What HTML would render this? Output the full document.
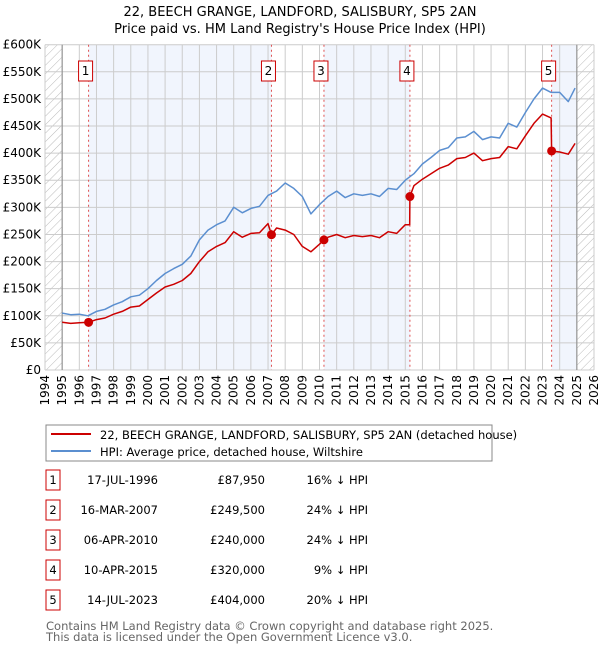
<!DOCTYPE html>
<html><head><meta charset="utf-8"><style>
body{margin:0;background:#fff;font-family:"Liberation Sans","DejaVu Sans",sans-serif;}
svg text{font-family:"DejaVu Sans","Liberation Sans",sans-serif;}
</style></head><body>
<svg id="c" width="600" height="650" xmlns="http://www.w3.org/2000/svg">
<defs><pattern id="h" width="6" height="6" patternUnits="userSpaceOnUse" patternTransform="rotate(45)"><line x1="0" y1="0" x2="0" y2="6" stroke="#bbb" stroke-width="1"/></pattern></defs>
<text x="300" y="16" text-anchor="middle" font-size="13">22, BEECH GRANGE, LANDFORD, SALISBURY, SP5 2AN</text>
<text x="300" y="33" text-anchor="middle" font-size="13">Price paid vs. HM Land Registry's House Price Index (HPI)</text>
<g id="plot"></g>
<g>
<rect x="46" y="425" width="446" height="36" fill="#fff" stroke="#888"/>
<line x1="51" y1="434" x2="91" y2="434" stroke="#cc0000" stroke-width="2"/>
<text x="100" y="439" font-size="11.5">22, BEECH GRANGE, LANDFORD, SALISBURY, SP5 2AN (detached house)</text>
<line x1="51" y1="451" x2="91" y2="451" stroke="#5b8fd0" stroke-width="2"/>
<text x="100" y="456" font-size="11.5">HPI: Average price, detached house, Wiltshire</text>
</g>
<g id="table" font-size="11.5"></g>
<text x="46" y="630" font-size="11.5" fill="#666">Contains HM Land Registry data © Crown copyright and database right 2025.</text>
<text x="46" y="641" font-size="11.5" fill="#666">This data is licensed under the Open Government Licence v3.0.</text>
</svg>
<script>
const hpiYears=[1995,1995.5,1996,1996.5,1997,1997.5,1998,1998.5,1999,1999.5,2000,2000.5,2001,2001.5,2002,2002.5,2003,2003.5,2004,2004.5,2005,2005.5,2006,2006.5,2007,2007.5,2008,2008.5,2009,2009.5,2010,2010.5,2011,2011.5,2012,2012.5,2013,2013.5,2014,2014.5,2015,2015.5,2016,2016.5,2017,2017.5,2018,2018.5,2019,2019.5,2020,2020.5,2021,2021.5,2022,2022.5,2023,2023.5,2024,2024.5,2024.9];
const hpiValues=[105,102,103,100,108,112,120,126,135,138,150,165,178,187,195,210,240,258,268,275,300,290,298,302,322,330,345,335,320,288,305,320,330,318,325,322,325,320,335,333,350,362,380,392,405,410,428,430,440,425,430,428,455,448,475,500,520,512,512,495,520];
const redYears=[1995,1995.5,1996,1996.54,1997,1997.5,1998,1998.5,1999,1999.5,2000,2000.5,2001,2001.5,2002,2002.5,2003,2003.5,2004,2004.5,2005,2005.5,2006,2006.5,2007,2007.2,2007.5,2008,2008.5,2009,2009.5,2010,2010.26,2010.5,2011,2011.5,2012,2012.5,2013,2013.5,2014,2014.5,2015,2015.26,2015.27,2015.5,2016,2016.5,2017,2017.5,2018,2018.5,2019,2019.5,2020,2020.5,2021,2021.5,2022,2022.5,2023,2023.5,2023.53,2024,2024.5,2024.9];
const redValues=[88,86,87,87.95,93,96,103,108,116,118,130,142,153,158,165,178,200,218,228,235,255,245,252,253,270,249.5,262,258,250,228,218,232,240,245,250,244,248,246,248,244,255,252,268,268,320,340,352,362,372,378,390,392,400,386,390,392,412,408,432,455,472,465,404,402,398,418];
const saleYears=[1996.54,2007.2,2010.26,2015.27,2023.53];
const saleValues=[87.95,249.5,240,320,404];
const saleDates=["17-JUL-1996","16-MAR-2007","06-APR-2010","10-APR-2015","14-JUL-2023"];
const salePrices=["£87,950","£249,500","£240,000","£320,000","£404,000"];
const salePct=["16% ↓ HPI","24% ↓ HPI","24% ↓ HPI","9% ↓ HPI","20% ↓ HPI"];
const yTicks=[0,50,100,150,200,250,300,350,400,450,500,550,600];
const yTickLabels=["£0","£50K","£100K","£150K","£200K","£250K","£300K","£350K","£400K","£450K","£500K","£550K","£600K"];

const NS="http://www.w3.org/2000/svg";
const X0=45,X1=594,Y0=370,Y1=44.7;
const xs=y=>X0+(y-1994)/32*(X1-X0);
const ys=v=>Y0-v/600*(Y0-Y1);
const plot=document.getElementById('plot');
function mk(t,a,p){const e=document.createElementNS(NS,t);for(const k in a)e.setAttribute(k,a[k]);(p||plot).appendChild(e);return e;}
[[0,1],[2,3]].forEach(([a,b])=>{const r=mk('rect',{x:xs(saleYears[a]),y:Y1,width:xs(saleYears[b])-xs(saleYears[a]),height:Y0-Y1,fill:'#eef3fc',opacity:0.8});

});
{const r=mk('rect',{x:xs(saleYears[4]),y:Y1,width:xs(2025)-xs(saleYears[4]),height:Y0-Y1,fill:'#eef3fc',opacity:0.8});

}
[[1994,1995],[2025,2026]].forEach(([a,b])=>{const r=mk('rect',{x:xs(a),y:Y1,width:xs(b)-xs(a),height:Y0-Y1,fill:'url(#h)'});

});
for(let i=0;i<yTicks.length;i++){const y=ys(yTicks[i]);
mk('line',{x1:X0,x2:X1,y1:y,y2:y,stroke:'#ccc','stroke-width':1});
const t=mk('text',{x:41,y:y+4,'text-anchor':'end','font-size':12});t.textContent=yTickLabels[i];

}
for(let yr=1994;yr<=2026;yr++){const x=xs(yr);
mk('line',{x1:x,x2:x,y1:Y1,y2:Y0,stroke:'#ccc','stroke-width':1});
const t=mk('text',{x:0,y:0,'font-size':12,'text-anchor':'end',transform:`translate(${x+4},${Y0+5}) rotate(-90)`});t.textContent=yr;

}
mk('line',{x1:xs(1995),x2:xs(1995),y1:Y1,y2:Y0,stroke:'#888'});
mk('line',{x1:xs(2025),x2:xs(2025),y1:Y1,y2:Y0,stroke:'#888'});
saleYears.forEach((s,i)=>{const x=xs(s);
mk('line',{x1:x,x2:x,y1:Y1,y2:Y0,stroke:'#e05050','stroke-dasharray':'2,3','stroke-width':1});
const g=mk('g',{});

mk('rect',{x:x-10,y:61,width:14,height:20,fill:'#fff',stroke:'#cc0000'},g);
const t=mk('text',{x:x-3,y:75,'text-anchor':'middle','font-size':12},g);t.textContent=i+1;});
function line(xa,va,col,name){const d=xa.map((x,i)=>(i?'L':'M')+xs(x).toFixed(1)+','+ys(va[i]).toFixed(1)).join('');
const p=mk('path',{d:d,fill:'none',stroke:col,'stroke-width':1.5,'stroke-linejoin':'round'});

}
line(hpiYears,hpiValues,'#5b8fd0','hpi-line');
line(redYears,redValues,'#cc0000','price-paid-line');
saleYears.forEach((s,i)=>{const c=mk('circle',{cx:xs(s),cy:ys(saleValues[i]),r:4.5,fill:'#cc0000'});

});
const tb=document.getElementById('table');
saleDates.forEach((d,i)=>{const y=484+i*30;
const g=mk('g',{},tb);

mk('rect',{x:46,y:y-14,width:14,height:20,fill:'#fff',stroke:'#cc0000'},g);
let t=mk('text',{x:53,y:y,'text-anchor':'middle'},g);t.textContent=i+1;
t=mk('text',{x:158,y:y,'text-anchor':'end'},g);t.textContent=d;
t=mk('text',{x:265,y:y,'text-anchor':'end'},g);t.textContent=salePrices[i];
t=mk('text',{x:368,y:y,'text-anchor':'end'},g);t.textContent=salePct[i];});
</script>
</body></html>
